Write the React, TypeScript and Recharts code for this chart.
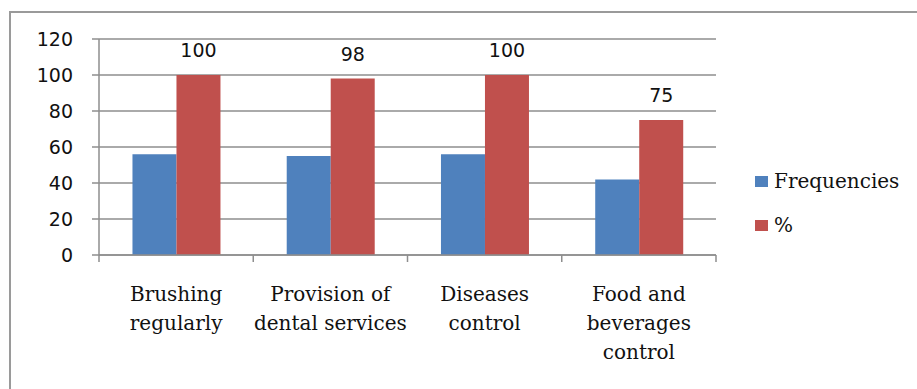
import React from 'react';
import { BarChart, Bar, XAxis, YAxis, CartesianGrid, Legend, LabelList } from 'recharts';

const categories = ['Brushing regularly', 'Provision of dental services', 'Diseases control', 'Food and beverages control'];
const categoryLines = [
  ['Brushing', 'regularly'],
  ['Provision of', 'dental services'],
  ['Diseases', 'control'],
  ['Food and', 'beverages', 'control'],
];
const seriesNames = ['Frequencies', '%'];
const frequencies = [56, 55, 56, 42];
const percents = [100, 98, 100, 75];
const yTicks = [0, 20, 40, 60, 80, 100, 120];

const data = categories.map((name, i) => ({ name, frequencies: frequencies[i], percent: percents[i] }));

const GRID = '#8e8e8e';
const SERIF = '"DejaVu Serif", serif';
const SANS = '"DejaVu Sans", sans-serif';

const CategoryTick = (props: any) => {
  const { x, y, payload, index } = props;
  const half = payload.offset ?? 0;
  const lines = categoryLines[index] ?? [String(payload.value)];
  return (
    <g>
      <line x1={x - half} x2={x - half} y1={y} y2={y + 7} stroke={GRID} strokeWidth={1.5} />
      {index === categories.length - 1 && (
        <line x1={x + half} x2={x + half} y1={y} y2={y + 7} stroke={GRID} strokeWidth={1.5} />
      )}
      <text x={x} y={y + 46} textAnchor="middle" fontFamily={SERIF} fontSize={20} fill="#111">
        {lines.map((l, i) => (
          <tspan key={i} x={x} dy={i === 0 ? 0 : 29}>
            {l}
          </tspan>
        ))}
      </text>
    </g>
  );
};

const renderLegend = (props: any) => {
  const items = [...(props.payload ?? [])].sort(
    (a: any, b: any) => seriesNames.indexOf(a.value) - seriesNames.indexOf(b.value)
  );
  return (
    <div style={{ fontFamily: SERIF, fontSize: 20, color: '#111' }}>
      {items.map((entry: any) => (
        <div key={entry.value} style={{ display: 'flex', alignItems: 'center', height: 44 }}>
          <span style={{ display: 'inline-block', width: 13, height: 11, background: entry.color, marginRight: 6 }} />
          <span>{entry.value}</span>
        </div>
      ))}
    </div>
  );
};

const App: React.FC = () => {
  return (
    <div
      style={{
        position: 'fixed',
        left: 9,
        top: 11,
        width: 908,
        height: 378,
        borderLeft: '2px solid #9a9a9a',
        borderTop: '2px solid #9a9a9a',
        background: '#fff',
        boxSizing: 'border-box',
      }}
    >
      <BarChart
        width={906}
        height={376}
        data={data}
        margin={{ top: 26, right: 201, left: 0, bottom: 24 }}
        barGap={0}
        barCategoryGap="21.7%"
      >
        <CartesianGrid vertical={false} stroke={GRID} strokeWidth={1.5} />
        <XAxis
          dataKey="name"
          height={110}
          interval={0}
          tickSize={0}
          tickMargin={0}
          tickLine={false}
          axisLine={{ stroke: GRID, strokeWidth: 1.5 }}
          tick={<CategoryTick />}
        />
        <YAxis
          width={88}
          domain={[0, 120]}
          ticks={yTicks}
          interval={0}
          tickSize={7}
          tickMargin={19}
          axisLine={{ stroke: GRID, strokeWidth: 1.5 }}
          tickLine={{ stroke: GRID, strokeWidth: 1.5 }}
          tick={{ fill: '#111', fontSize: 19, fontFamily: SANS }}
        />
        <Legend
          layout="vertical"
          align="center"
          verticalAlign="middle"
          content={renderLegend}
          wrapperStyle={{ left: 744, top: 146, width: 160 }}
        />
        <Bar dataKey="frequencies" name={seriesNames[0]} fill="#4f81bd" isAnimationActive={false} />
        <Bar dataKey="percent" name={seriesNames[1]} fill="#c0504d" isAnimationActive={false}>
          <LabelList dataKey="percent" position="top" offset={18} fill="#111" fontSize={19} fontFamily={SANS} />
        </Bar>
      </BarChart>
    </div>
  );
};

export default App;
